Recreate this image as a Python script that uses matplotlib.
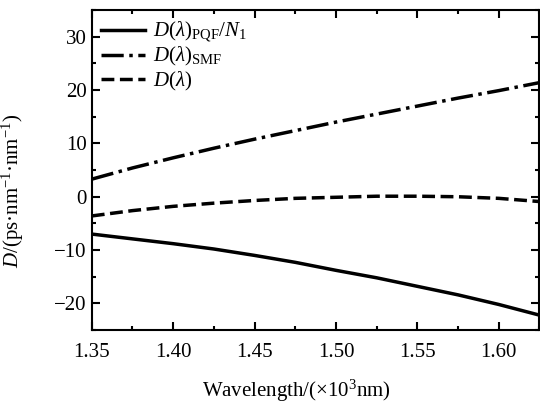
import numpy as np
import matplotlib
matplotlib.use("Agg")
import matplotlib.pyplot as plt
from matplotlib.ticker import MultipleLocator, FormatStrFormatter

plt.rcParams['font.family'] = ['Liberation Serif', 'DejaVu Serif']
plt.rcParams['mathtext.fontset'] = 'custom'
plt.rcParams['mathtext.rm'] = 'Liberation Serif'
plt.rcParams['mathtext.it'] = 'Liberation Serif:italic'

# values
wl = [1.35, 1.375, 1.40, 1.425, 1.45, 1.475, 1.50, 1.525, 1.55, 1.575, 1.60, 1.625]
d_pqf = [-7.0, -7.9, -8.8, -9.8, -11.0, -12.3, -13.8, -15.2, -16.8, -18.4, -20.2, -22.2]
d_smf = [3.3, 5.4, 7.3, 9.1, 10.8, 12.4, 14.0, 15.5, 17.0, 18.5, 19.9, 21.4]
d_tot = [-3.6, -2.6, -1.8, -1.2, -0.7, -0.3, -0.1, 0.1, 0.1, -0.0, -0.3, -0.9]

fig = plt.figure(figsize=(5.4, 4.04), dpi=100)
ax = fig.add_axes([0.170, 0.183, 0.829, 0.792])

ax.plot(wl, d_pqf, 'k-', lw=2.5, label=r'$D(\lambda)_{\mathrm{PQF}}/N_1$')
ax.plot(wl, d_smf, 'k-.', lw=2.5, label=r'$D(\lambda)_{\mathrm{SMF}}$')
ax.plot(wl, d_tot, 'k--', lw=2.5, label=r'$D(\lambda)$')

ax.set_xlim(1.35, 1.625)
ax.set_ylim(-25, 35)
ax.xaxis.set_major_locator(MultipleLocator(0.05))
ax.xaxis.set_minor_locator(MultipleLocator(0.025))
ax.yaxis.set_major_locator(MultipleLocator(10))
ax.yaxis.set_minor_locator(MultipleLocator(5))
ax.xaxis.set_major_formatter(FormatStrFormatter('%.2f'))
ax.tick_params(which='both', direction='in', top=True, right=True, labelsize=15, width=1.5)
ax.tick_params(which='major', length=6)
ax.tick_params(which='minor', length=3)
ax.tick_params(axis='x', pad=9)
for s in ax.spines.values():
    s.set_linewidth(1.5)

ax.set_xlabel('Wavelength/(×10$^3$nm)', fontsize=15)
ax.xaxis.set_label_coords(0.458, -0.15)
ax.set_ylabel(r'$D$/(ps·nm$^{-1}$·nm$^{-1}$)', fontsize=15)
ax.yaxis.set_label_coords(-0.147, 0.434)

ax.legend(loc='upper left', frameon=False, fontsize=15, handlelength=2.1,
          handletextpad=0.4, borderaxespad=0.05, labelspacing=0.05)

fig.savefig('out.png')
